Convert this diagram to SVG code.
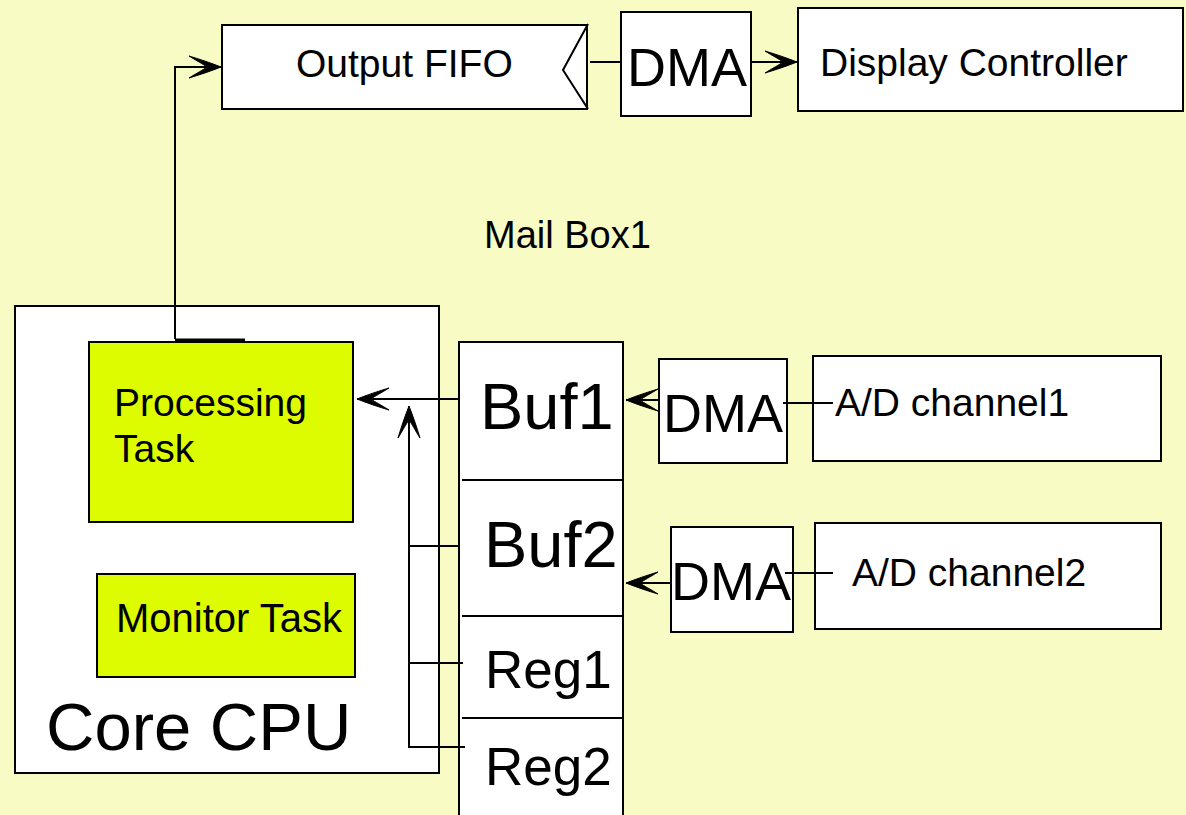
<svg xmlns="http://www.w3.org/2000/svg" width="1186" height="815" viewBox="0 0 1186 815">
<style>
.box{fill:#fff;stroke:#000;stroke-width:2}
.task{fill:#DDFC00;stroke:#000;stroke-width:2}
.ln{fill:none;stroke:#000;stroke-width:2}
text{font-family:"Liberation Sans",Arial,sans-serif;fill:#000}
.t38{font-size:39px}
.t40{font-size:40px}
.mb{font-size:38px}
.dma{font-size:54px}
.buf{font-size:65px}
.reg{font-size:53px}
.cpu{font-size:67px}
</style>
<defs>
<marker id="ah" markerUnits="userSpaceOnUse" viewBox="-34 -12 36 24" refX="0" refY="0" markerWidth="36" markerHeight="24" orient="auto">
<path d="M0,0 C-10,-4 -22,-8 -32,-11 C-24,-6 -18,-3 -14,0 C-18,3 -24,6 -32,11 C-22,8 -10,4 0,0 Z" fill="#000" stroke="#000" stroke-width="1"/>
</marker>
</defs>
<rect width="1186" height="815" fill="#F8FBC3"/>

<g id="core-cpu">
<rect class="box" x="15" y="306" width="424" height="467"/>
<text class="cpu" x="46" y="750">Core CPU</text>
</g>
<g id="processing-task">
<rect class="task" x="89" y="342" width="264" height="180"/>
<text class="t38" x="114" y="416">Processing</text>
<text class="t38" x="114" y="462">Task</text>
</g>
<g id="monitor-task">
<rect class="task" x="97" y="574" width="258" height="103"/>
<text class="t40" x="116" y="632">Monitor Task</text>
</g>

<g id="output-fifo">
<rect class="box" x="222" y="25" width="365" height="84"/>
<polyline class="ln" points="588,24 563,70 588,109"/>
<text class="t38" x="296" y="77">Output FIFO</text>
</g>
<g id="dma-out">
<rect class="box" x="621" y="12" width="130" height="104"/>
<text class="dma" x="627" y="86">DMA</text>
</g>
<g id="display-controller">
<rect class="box" x="798" y="8" width="385" height="103"/>
<text class="t38" x="820" y="76">Display Controller</text>
</g>

<g id="mailbox">
<text class="mb" x="484" y="248">Mail Box1</text>
<rect class="box" x="459" y="342" width="164" height="480"/>
<line class="ln" x1="462" y1="480" x2="623" y2="480"/>
<line class="ln" x1="462" y1="616" x2="623" y2="616"/>
<line class="ln" x1="462" y1="718" x2="623" y2="718"/>
<text class="buf" x="480" y="429">Buf1</text>
<text class="buf" x="484" y="567">Buf2</text>
<text class="reg" x="485" y="688">Reg1</text>
<text class="reg" x="485" y="785">Reg2</text>
</g>

<g id="dma1">
<rect class="box" x="659" y="359" width="128" height="104"/>
<text class="dma" x="663" y="432">DMA</text>
</g>
<g id="adc1">
<rect class="box" x="813" y="356" width="348" height="105"/>
<text class="t38" x="835" y="416">A/D channel1</text>
</g>
<g id="dma2">
<rect class="box" x="671" y="527" width="122" height="105"/>
<text class="dma" x="671" y="600">DMA</text>
</g>
<g id="adc2">
<rect class="box" x="815" y="523" width="346" height="106"/>
<text class="t38" x="852" y="586">A/D channel2</text>
</g>

<g id="connectors">
<polyline class="ln" points="175,339 175,67 221,67" marker-end="url(#ah)"/>
<line x1="175" y1="340" x2="245" y2="340" stroke="#000" stroke-width="3"/>
<line class="ln" x1="590" y1="62" x2="621" y2="62"/>
<line class="ln" x1="751" y1="62" x2="797" y2="62" marker-end="url(#ah)"/>
<line class="ln" x1="459" y1="399" x2="357" y2="399" marker-end="url(#ah)"/>
<polyline class="ln" points="459,546 409,546"/>
<polyline class="ln" points="463,663 409,663"/>
<polyline class="ln" points="465,747 409,747 409,406" marker-end="url(#ah)"/>
<line class="ln" x1="660" y1="400" x2="626" y2="400" marker-end="url(#ah)"/>
<line class="ln" x1="671" y1="583" x2="626" y2="583" marker-end="url(#ah)"/>
<line class="ln" x1="783" y1="403" x2="833" y2="403"/>
<line class="ln" x1="785" y1="573" x2="833" y2="573"/>
</g>
</svg>
